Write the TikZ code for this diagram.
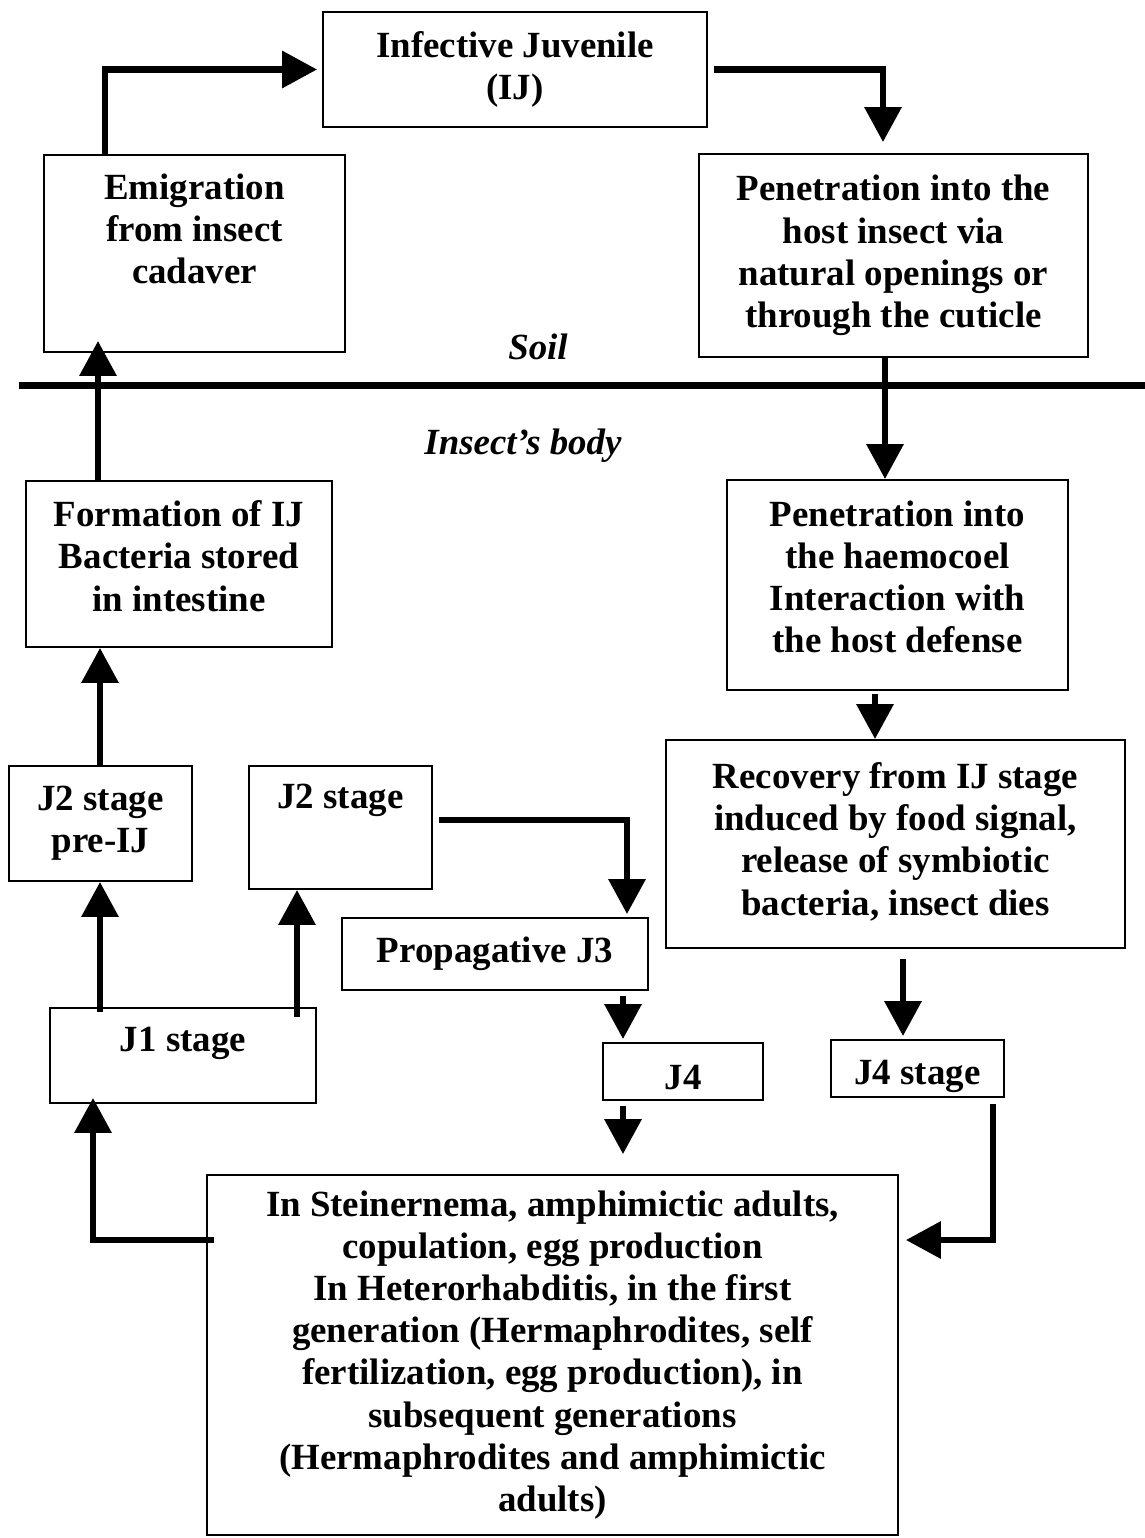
\documentclass[tikz,border=0pt]{standalone}
\usepackage{fontspec}
\setmainfont{Liberation Serif}
\usetikzlibrary{arrows.meta}

\tikzset{
  box/.style={draw, line width=1.1pt, align=center, inner sep=0pt,
    font=\bfseries\fontsize{21}{24}\selectfont},
  lbl/.style={font=\bfseries\itshape\fontsize{21}{24}\selectfont},
  arr/.style={line width=0.13cm, -{Triangle[length=0.7cm,width=0.72cm]}}
}

\begin{document}
\begin{tikzpicture}[x=0.02cm, y=-0.02cm]
 \useasboundingbox (0,0) rectangle (1145,1538);
 % soil / insect's body
 \draw[line width=0.14cm] (19,385) -- (1145,385);
 \node[lbl] (soil) at (538,347) {Soil};
 \node[lbl] (body) at (523,446) {Insect’s body};
 % boxes
 \node[box, minimum width=7.68cm, minimum height=2.30cm] (ij) at (515,69.5) {Infective Juvenile\\(IJ)};
 \node[box, minimum width=6.02cm, minimum height=3.94cm] (emig) at (194.5,253.5) {Emigration\\from insect\\cadaver\\[0.14cm]\mbox{}};
 \node[box, minimum width=7.78cm, minimum height=4.06cm] (penh) at (893.5,255.5) {Penetration into the\\host insect via\\natural openings or\\through the cuticle};
 \node[box, minimum width=6.12cm, minimum height=3.32cm] (form) at (179,564) {Formation of IJ\\Bacteria stored\\in intestine\\[-0.52cm]\mbox{}};
 \node[box, minimum width=6.82cm, minimum height=4.20cm] (haemo) at (897.5,585) {Penetration into\\the haemocoel\\Interaction with\\the host defense\\[-0.52cm]\mbox{}};
 \node[box, minimum width=9.18cm, minimum height=4.16cm] (recov) at (895.5,844) {Recovery from IJ stage\\induced by food signal,\\release of symbiotic\\bacteria, insect dies\\[-0.64cm]\mbox{}};
 \node[box, minimum width=3.66cm, minimum height=2.30cm] (preij) at (100.5,823.5) {J2 stage\\pre-IJ};
 \node[box, minimum width=3.66cm, minimum height=2.46cm] (jtwo) at (340.5,827.5) {J2 stage\\[0.42cm]\mbox{}};
 \node[box, minimum width=6.12cm, minimum height=1.44cm] (prop) at (495,954) {Propagative J3};
 \node[box, minimum width=5.32cm, minimum height=1.90cm] (jone) at (183,1055.5) {J1 stage\\[-0.18cm]\mbox{}};
 \node[box, minimum width=3.20cm, minimum height=1.14cm, text height=0.71cm, text depth=0cm] (jfour) at (683,1071.5) {J4};
 \node[box, minimum width=3.46cm, minimum height=1.14cm, text height=0.79cm, text depth=0.16cm] (jfourst) at (917.5,1068.5) {J4 stage};
 \node[box, minimum width=13.82cm, minimum height=7.20cm] (adults) at (552.5,1355) {In Steinernema, amphimictic adults,\\copulation, egg production\\In Heterorhabditis, in the first\\generation (Hermaphrodites, self\\fertilization, egg production), in\\subsequent generations\\(Hermaphrodites and amphimictic\\adults)};
 % arrows
 \draw[arr, shorten >=0.1cm] (emig.north -| 105,0) |- (ij.west);
 \draw[arr, shorten <=0.12cm, shorten >=0.22cm] (ij.east) -| (penh.north -| 883,0);
 \draw[arr] (penh.south -| 885,0) -- (haemo.north -| 885,0);
 \draw[arr, shorten <=0.06cm] (haemo.south -| 875,0) -- (recov.north -| 875,0);
 \draw[arr, shorten <=0.2cm, shorten >=0.06cm] (recov.south -| 903,0) -- (jfourst.north -| 903,0);
 \draw[arr, shorten <=0.12cm, shorten >=0.14cm] (jfourst.south -| 993,0) |- (adults.east |- 0,1240);
 \draw[arr, shorten <=-0.16cm, shorten >=-0.12cm] (adults.west |- 0,1240) -| (jone.south -| 93,0);
 \draw[arr, shorten <=-0.1cm] (jone.north -| 100,0) -- (preij.south -| 100,0);
 \draw[arr, shorten <=-0.2cm] (jone.north -| 297,0) -- (jtwo.south -| 297,0);
 \draw[arr] (preij.north -| 100,0) -- (form.south -| 100,0);
 \draw[arr, shorten >=-0.24cm] (form.north -| 98,0) -- (emig.south -| 98,0);
 \draw[arr, shorten <=0.12cm, shorten >=0.06cm] (jtwo.east |- 0,820) -| (prop.north -| 627,0);
 \draw[arr, shorten <=0.1cm, shorten >=0.06cm] (prop.south -| 623,0) -- (jfour.north -| 623,0);
 \draw[arr, shorten <=0.1cm, shorten >=0.4cm] (jfour.south -| 623,0) -- (adults.north -| 623,0);
\end{tikzpicture}
\end{document}
